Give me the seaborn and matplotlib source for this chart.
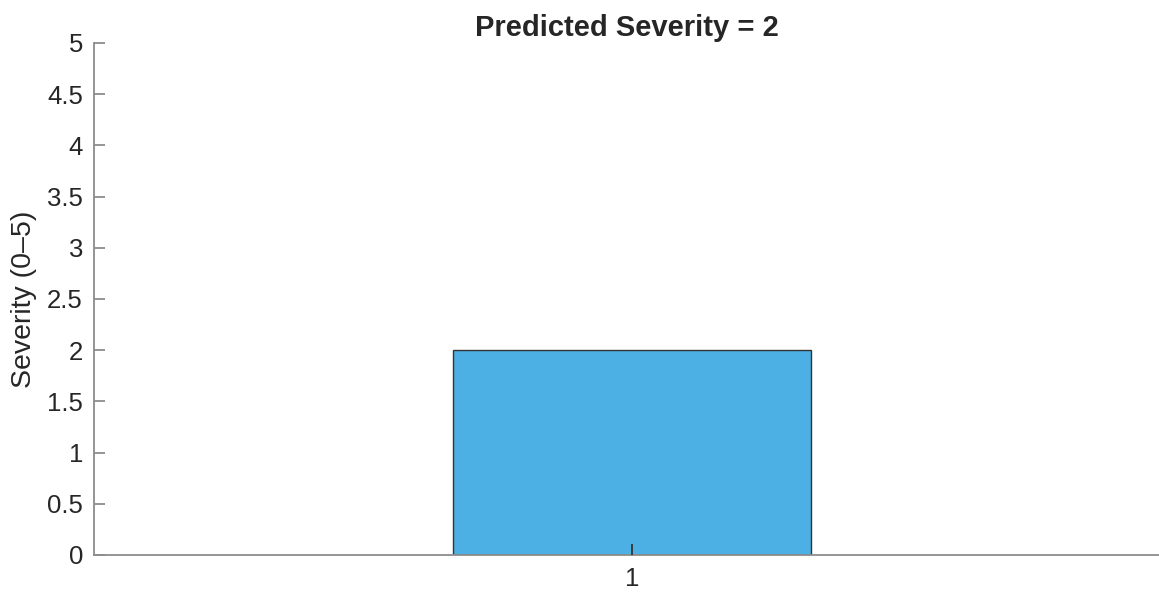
import matplotlib
matplotlib.use("Agg")
import matplotlib.pyplot as plt
import seaborn as sns
import pandas as pd

categories = ["1"]
severity = [2]
title = "Predicted Severity = 2"
ylabel = "Severity (0\u20135)"
yticks = [0, 0.5, 1, 1.5, 2, 2.5, 3, 3.5, 4, 4.5, 5]
ytick_labels = ["0", "0.5", "1", "1.5", "2", "2.5", "3", "3.5", "4", "4.5", "5"]

sns.set_style("white")
plt.rcParams["font.family"] = ["Liberation Sans", "DejaVu Sans"]

df = pd.DataFrame({"cat": categories, "sev": severity})

fig = plt.figure(figsize=(11.59, 5.92), dpi=100)
ax = fig.add_axes([94 / 1159, 37 / 592, 1 - 94 / 1159, 512 / 592])
sns.barplot(data=df, x="cat", y="sev", color="#4DB0E4", saturation=1,
            width=0.8, edgecolor="#333333", linewidth=1.0, ax=ax)

ax.set_axisbelow(False)
ax.set_xlim(-1.202, 1.178)
ax.set_ylim(0, 5)
ax.set_yticks(yticks)
ax.set_yticklabels(ytick_labels)
ax.set_xlabel("")
ax.set_ylabel(ylabel, fontsize=20.5, color="#262626", labelpad=7)
ax.set_title(title, fontsize=21, fontweight="bold", color="#262626", pad=5)

for s in ["top", "right"]:
    ax.spines[s].set_visible(False)
for s in ["left", "bottom"]:
    ax.spines[s].set_color("#8c8c8c")
    ax.spines[s].set_linewidth(1.3)
ax.tick_params(axis="both", direction="in", length=8, width=1.3,
               colors="#8c8c8c", labelcolor="#262626", labelsize=18.5, left=True, bottom=True)
ax.tick_params(axis="y", pad=8)
ax.tick_params(axis="x", colors="#333333", labelcolor="#262626", pad=9)

fig.savefig("out.png", dpi=100)
